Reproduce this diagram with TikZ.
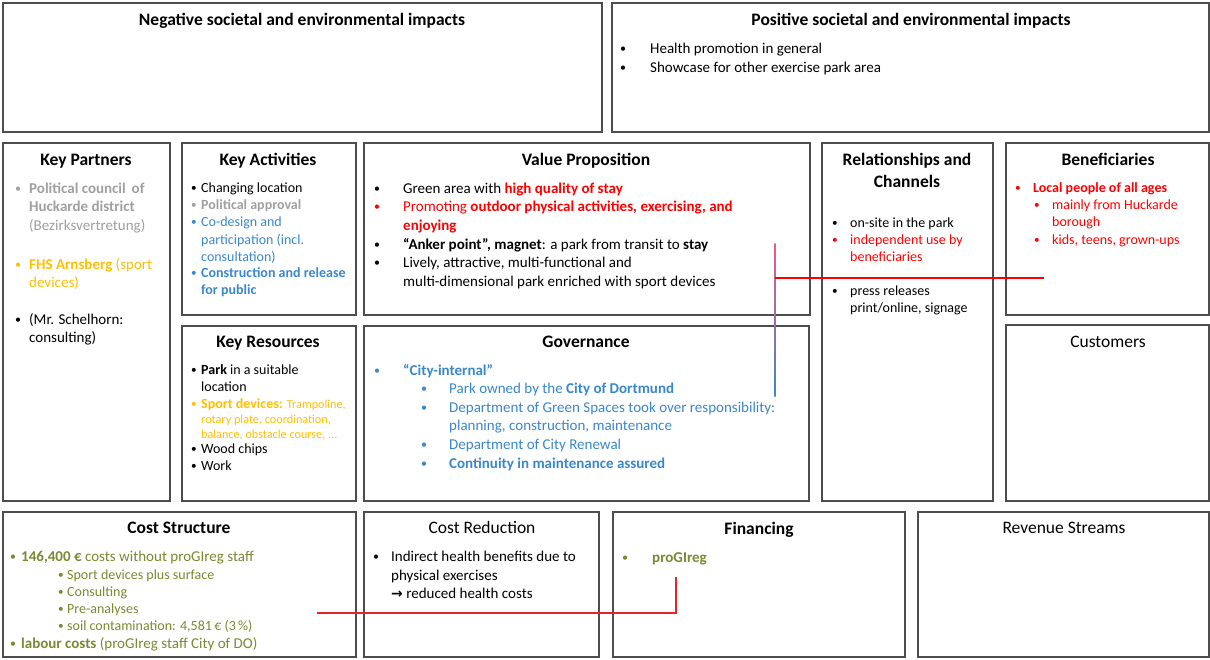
\documentclass[tikz,border=0pt]{standalone}
\usepackage{fontspec}
\setmainfont{Carlito}
\newfontfamily\arrowfont{DejaVu Sans}
\newcommand{\bul}{\raisebox{0.6pt}{\scalebox{0.8}{•}}}
\definecolor{kline}{HTML}{4D4D4D}
\definecolor{kgray}{HTML}{A0A0A0}
\definecolor{kgold}{HTML}{FFC000}
\definecolor{kblue}{HTML}{3A88CC}
\definecolor{kred}{HTML}{FF0000}
\definecolor{kolive}{HTML}{7A8A30}
\definecolor{kpink}{HTML}{EE5C7C}
\definecolor{klink}{HTML}{E3262B}
\begin{document}
\begin{tikzpicture}[x=1pt,y=-1pt,
  panel/.style={draw=kline,line width=1.4pt},
  ttl/.style={anchor=base,inner sep=0,font=\fontsize{17.5}{21}\selectfont\bfseries},
  ttlr/.style={anchor=base,inner sep=0,font=\fontsize{17.5}{21}\selectfont},
  tx/.style={anchor=base west,inner sep=0,font=\fontsize{15}{18}\selectfont},
  ts/.style={anchor=base west,inner sep=0,font=\fontsize{14}{17}\selectfont},
  tt/.style={anchor=base west,inner sep=0,font=\fontsize{12.2}{14}\selectfont},
  link/.style={draw=kred,line width=1.3pt}]
\useasboundingbox (0,0) rectangle (1210,659);
\fill[white] (0,0) rectangle (1210,659);

% ---------- panels ----------
\draw[panel] (3,3) rectangle (602,132);
\draw[panel] (612,3) rectangle (1209,132);
\draw[panel] (3,143) rectangle (170,501);
\draw[panel] (182,143) rectangle (356,315);
\draw[panel] (182,326) rectangle (356,501);
\draw[panel] (364,143) rectangle (810,315);
\draw[panel] (364,326) rectangle (809,501);
\draw[panel] (822,143) rectangle (993,501);
\draw[panel] (1006,143) rectangle (1209,315);
\draw[panel] (1006,325) rectangle (1209,501);
\draw[panel] (3,512) rectangle (356,657);
\draw[panel] (364,512) rectangle (599,657);
\draw[panel] (613,512) rectangle (905,657);
\draw[panel] (918,512) rectangle (1209,657);

% ---------- impacts ----------
\node[ttl] (neg) at (302,25) {Negative societal and environmental impacts};
\node[ttl] (pos) at (911,25) {Positive societal and environmental impacts};
\node[tx] (pos-b1) at (620,53) {\bul};
\node[tx] (pos-1) at (650,53) {Health promotion in general};
\node[tx] (pos-b2) at (620,72) {\bul};
\node[tx] (pos-2) at (650,72) {Showcase for other exercise park area};

% ---------- key partners ----------
\node[ttl] (kp) at (86,165) {Key Partners};
\node[tx,text=kgray] (kp-b1) at (15,193) {\bul};
\node[tx,text=kgray] (kp-1) at (29,193) {\bfseries Political council\, of};
\node[tx,text=kgray] (kp-2) at (29,211) {\bfseries Huckarde district};
\node[tx,text=kgray] (kp-3) at (29,230) {(Bezirksvertretung)};
\node[tx,text=kgold] (kp-b2) at (15,269) {\bul};
\node[tx,text=kgold] (kp-4) at (29,269) {\textbf{FHS Arnsberg} (sport};
\node[tx,text=kgold] (kp-5) at (29,287) {devices)};
\node[tx] (kp-b3) at (15,324) {\bul};
\node[tx] (kp-6) at (29,324) {(Mr. Schelhorn:};
\node[tx] (kp-7) at (29,342) {consulting)};

% ---------- key activities ----------
\node[ttl] (ka) at (268,165) {Key Activities};
\node[ts] (ka-b1) at (191,192) {\bul};
\node[ts] (ka-1) at (201,192) {Changing location};
\node[ts,text=kgray] (ka-b2) at (191,209) {\bul};
\node[ts,text=kgray] (ka-2) at (201,209) {\bfseries Political approval};
\node[ts,text=kblue] (ka-b3) at (191,226) {\bul};
\node[ts,text=kblue] (ka-3) at (201,226) {Co-design and};
\node[ts,text=kblue] (ka-4) at (201,244) {participation (incl.};
\node[ts,text=kblue] (ka-5) at (201,261) {consultation)};
\node[ts,text=kblue] (ka-b4) at (191,277) {\bul};
\node[ts,text=kblue] (ka-6) at (201,277) {\bfseries Construction and release};
\node[ts,text=kblue] (ka-7) at (201,294) {\bfseries for public};

% ---------- key resources ----------
\node[ttl] (kr) at (268,347) {Key Resources};
\node[ts] (kr-b1) at (191,374) {\bul};
\node[ts] (kr-1) at (201,374) {\textbf{Park} in a suitable};
\node[ts] (kr-2) at (201,391) {location};
\node[ts,text=kgold] (kr-b2) at (191,408) {\bul};
\node[ts,text=kgold] (kr-3) at (201,408) {\textbf{Sport devices:} {\fontsize{12.2}{14}\selectfont Trampoline,}};
\node[tt,text=kgold] (kr-4) at (201,423) {rotary plate, coordination,};
\node[tt,text=kgold] (kr-5) at (201,438) {balance, obstacle course, ...};
\node[ts] (kr-b3) at (191,453) {\bul};
\node[ts] (kr-6) at (201,453) {Wood chips};
\node[ts] (kr-b4) at (191,470) {\bul};
\node[ts] (kr-7) at (201,470) {Work};

% ---------- value proposition ----------
\node[ttl] (vp) at (586,165) {Value Proposition};
\node[tx] (vp-b1) at (374,193) {\bul};
\node[tx] (vp-1) at (403,193) {Green area with \textcolor{kred}{\bfseries high quality of stay}};
\node[tx,text=kred] (vp-b2) at (374,211) {\bul};
\node[tx,text=kred] (vp-2) at (403,211) {Promoting \textbf{outdoor physical activities, exercising, and}};
\node[tx,text=kred] (vp-3) at (403,230) {\bfseries enjoying};
\node[tx] (vp-b3) at (374,249) {\bul};
\node[tx] (vp-4) at (403,249) {\textbf{“Anker point”, magnet}: a park from transit to \textbf{stay}};
\node[tx] (vp-b4) at (374,267) {\bul};
\node[tx] (vp-5) at (403,267) {Lively, attractive, multi-functional and};
\node[tx] (vp-6) at (403,286) {multi-dimensional park enriched with sport devices};

% ---------- governance ----------
\node[ttl] (gov) at (586,347) {Governance};
\node[tx,text=kblue] (gov-b1) at (374,375) {\bul};
\node[tx,text=kblue] (gov-1) at (403,375) {\bfseries “City-internal”};
\node[tx,text=kblue] (gov-b2) at (421,393) {\bul};
\node[tx,text=kblue] (gov-2) at (449,393) {Park owned by the \textbf{City of Dortmund}};
\node[tx,text=kblue] (gov-b3) at (421,412) {\bul};
\node[tx,text=kblue] (gov-3) at (449,412) {Department of Green Spaces took over responsibility:};
\node[tx,text=kblue] (gov-4) at (449,430) {planning, construction, maintenance};
\node[tx,text=kblue] (gov-b4) at (421,449) {\bul};
\node[tx,text=kblue] (gov-5) at (449,449) {Department of City Renewal};
\node[tx,text=kblue] (gov-b5) at (421,468) {\bul};
\node[tx,text=kblue] (gov-6) at (449,468) {\bfseries Continuity in maintenance assured};

% ---------- relationships and channels ----------
\node[ttl] (rc-t1) at (907,165) {Relationships and};
\node[ttl] (rc-t2) at (907,187) {Channels};
\node[ts] (rc-b1) at (832,227) {\bul};
\node[ts] (rc-1) at (850,227) {on-site in the park};
\node[ts,text=kred] (rc-b2) at (832,244) {\bul};
\node[ts,text=kred] (rc-2) at (850,244) {independent use by};
\node[ts,text=kred] (rc-3) at (850,261) {beneficiaries};
\node[ts] (rc-b3) at (832,295) {\bul};
\node[ts] (rc-4) at (850,295) {press releases};
\node[ts] (rc-5) at (850,312) {print/online, signage};

% ---------- beneficiaries / customers ----------
\node[ttl] (ben) at (1108,165) {Beneficiaries};
\node[ts,text=kred] (ben-b1) at (1015,192) {\bul};
\node[ts,text=kred] (ben-1) at (1033,192) {\bfseries Local people of all ages};
\node[ts,text=kred] (ben-b2) at (1034,209) {\bul};
\node[ts,text=kred] (ben-2) at (1052,209) {mainly from Huckarde};
\node[ts,text=kred] (ben-3) at (1052,226) {borough};
\node[ts,text=kred] (ben-b3) at (1034,244) {\bul};
\node[ts,text=kred] (ben-4) at (1052,244) {kids, teens, grown-ups};
\node[ttlr] (cus) at (1108,347) {Customers};

% ---------- cost structure ----------
\node[ttl] (cs) at (179,533) {Cost Structure};
\node[tx,text=kolive] (cs-b1) at (10,561) {\bul};
\node[tx,text=kolive] (cs-1) at (21,561) {\textbf{146,400 €} costs without proGIreg staff};
\node[ts,text=kolive] (cs-b2) at (58,579) {\bul};
\node[ts,text=kolive] (cs-2) at (67,579) {Sport devices plus surface};
\node[ts,text=kolive] (cs-b3) at (58,596) {\bul};
\node[ts,text=kolive] (cs-3) at (67,596) {Consulting};
\node[ts,text=kolive] (cs-b4) at (58,613) {\bul};
\node[ts,text=kolive] (cs-4) at (67,613) {Pre-analyses};
\node[ts,text=kolive] (cs-b5) at (58,630) {\bul};
\node[ts,text=kolive] (cs-5) at (67,630) {soil contamination: 4,581\,€ (3\,\%)};
\node[tx,text=kolive] (cs-b6) at (10,648) {\bul};
\node[tx,text=kolive] (cs-6) at (21,648) {\textbf{labour costs} (proGIreg staff City of DO)};

% ---------- cost reduction ----------
\node[ttlr] (cr) at (482,533) {Cost Reduction};
\node[tx] (cr-b1) at (373,561) {\bul};
\node[tx] (cr-1) at (391,561) {Indirect health benefits due to};
\node[tx] (cr-2) at (391,580) {physical exercises};
\node[tx] (cr-3) at (391,598) {{\arrowfont\bfseries\fontsize{14}{15}\selectfont →} reduced health costs};

% ---------- financing / revenue ----------
\node[ttl] (fin) at (759,534) {Financing};
\node[tx,text=kolive] (fin-b1) at (622,562) {\bul};
\node[tx,text=kolive] (fin-1) at (652,562) {\bfseries proGIreg};
\node[ttlr] (rev) at (1064,533) {Revenue Streams};

% ---------- red marker lines ----------
\coordinate (m1-top) at (775,243);
\coordinate (m1-bot) at (775,396);
\coordinate (m1-mid) at (775,278);
\coordinate (m1-end) at (1044,278);
\shade[top color=kpink, bottom color=kblue, middle color=kpink!55!kblue]
  ([xshift=-0.7pt]m1-top) rectangle ([xshift=0.7pt]m1-bot);
\draw[link] (m1-mid) -- (m1-end);

\coordinate (m2-start) at (317,613);
\coordinate (m2-corner) at (676,613);
\coordinate (m2-end) at (676,577);
\draw[link,draw=klink] (m2-start) -- (m2-corner) -- (m2-end);
\end{tikzpicture}
\end{document}
